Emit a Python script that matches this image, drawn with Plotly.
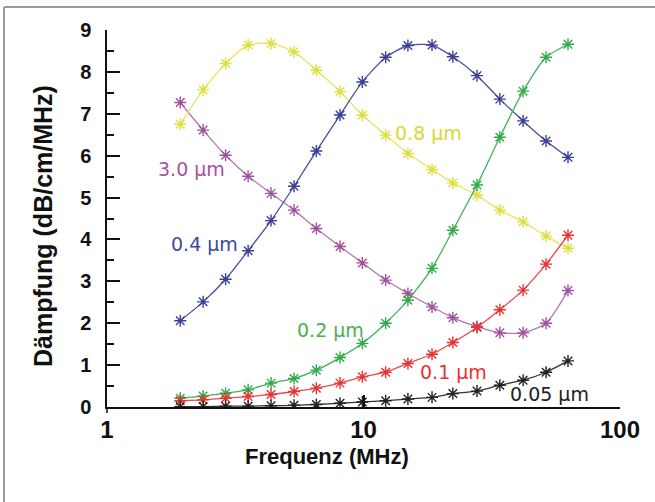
import math
import plotly.graph_objects as go

# Frequencies (MHz)
freq = [1.93, 2.37, 2.9, 3.55, 4.36, 5.36, 6.55, 8.1, 9.9, 12.2, 14.9, 18.5,
        22.3, 27.7, 34.0, 41.9, 51.5, 62.7]

# Attenuation (dB/cm/MHz) per particle size
d_3_0 = [7.27, 6.61, 6.01, 5.51, 5.10, 4.70, 4.26, 3.83, 3.44, 3.03, 2.71, 2.39,
         2.13, 1.92, 1.77, 1.77, 2.00, 2.78]
d_0_8 = [6.75, 7.57, 8.20, 8.64, 8.68, 8.48, 8.04, 7.53, 6.97, 6.49, 6.05, 5.67,
         5.35, 5.06, 4.70, 4.42, 4.08, 3.79]
d_0_4 = [2.06, 2.51, 3.05, 3.73, 4.45, 5.27, 6.11, 6.97, 7.76, 8.35, 8.63, 8.64,
         8.36, 7.91, 7.35, 6.83, 6.35, 5.96]
d_0_2 = [0.21, 0.26, 0.33, 0.41, 0.57, 0.68, 0.88, 1.18, 1.52, 2.00, 2.55, 3.31,
         4.22, 5.30, 6.44, 7.54, 8.35, 8.66]
d_0_1 = [0.15, 0.17, 0.21, 0.25, 0.30, 0.37, 0.45, 0.57, 0.72, 0.83, 1.04, 1.26,
         1.54, 1.90, 2.32, 2.79, 3.41, 4.10]
d_0_05 = [0.01, 0.01, 0.02, 0.02, 0.03, 0.04, 0.06, 0.09, 0.12, 0.15, 0.19, 0.23,
          0.32, 0.38, 0.52, 0.64, 0.83, 1.10]

series_names = ["3.0 µm", "0.8 µm", "0.4 µm", "0.2 µm", "0.1 µm", "0.05 µm"]
series_values = [d_3_0, d_0_8, d_0_4, d_0_2, d_0_1, d_0_05]
line_colors = ["#b07ab0", "#e6e65a", "#4a4e9e", "#3fb25a", "#ec4a4a", "#333333"]
marker_colors = ["#a0509c", "#dede40", "#3a3f98", "#32aa4a", "#e83232", "#222222"]
label_colors = ["#a8529e", "#d8d836", "#3c4a9c", "#4cb04c", "#ea3030", "#222222"]

# label anchor points (frequency MHz, value)
label_x = [1.55, 13.0, 1.75, 5.41, 16.3, 36.6]
label_y = [5.69, 6.54, 3.89, 1.83, 0.84, 0.30]

y_ticks = list(range(0, 10))
x_ticks = [1, 10, 100]

fig = go.Figure()
for name, vals, lc, mc in zip(series_names, series_values, line_colors, marker_colors):
    fig.add_trace(go.Scatter(
        x=freq, y=vals, mode="lines+markers", name=name,
        line=dict(color=lc, width=1.3, shape="spline", smoothing=0.6),
        marker=dict(symbol="asterisk-open", size=10, color=mc,
                    line=dict(color=mc, width=1.4)),
        showlegend=False,
    ))

for name, lx, ly, col in zip(series_names, label_x, label_y, label_colors):
    fig.add_annotation(x=math.log10(lx), y=ly, xref="x", yref="y", text=name,
                       showarrow=False, xanchor="left", yanchor="middle",
                       font=dict(family="DejaVu Sans", size=19, color=col))

L, R, T, B = 107, 35, 30, 95
W, H = 655, 502
pw, ph = W - L - R, H - T - B

def px(x):
    return (x - L) / pw

def py(y):
    return (H - B - y) / ph

# axis titles
fig.add_annotation(x=px(327), y=py(456), xref="paper", yref="paper",
                   xanchor="center", yanchor="middle",
                   text="<b>Frequenz (MHz)</b>", showarrow=False,
                   font=dict(family="Liberation Sans, Arial", size=22, color="#111"))
fig.add_annotation(x=px(43), y=py(226), xref="paper", yref="paper",
                   xanchor="center", yanchor="middle",
                   text="<b>Dämpfung (dB/cm/MHz)</b>", showarrow=False, textangle=-90,
                   font=dict(family="Liberation Sans, Arial", size=25, color="#111"))

# outer frame (top and left edges)
fig.add_shape(type="line", xref="paper", yref="paper", x0=px(4), x1=px(655),
              y0=py(7), y1=py(7), line=dict(color="#9a9a9a", width=2))
fig.add_shape(type="line", xref="paper", yref="paper", x0=px(4), x1=px(4),
              y0=py(7), y1=py(502), line=dict(color="#9a9a9a", width=2))
# small extension of the y axis below the x axis
fig.add_shape(type="line", xref="paper", yref="paper", x0=0, x1=0,
              y0=0, y1=py(413), line=dict(color="#111", width=1.5))

fig.update_layout(
    width=W, height=H,
    margin=dict(l=L, r=R, t=T, b=B, autoexpand=False),
    paper_bgcolor="white", plot_bgcolor="white",
    xaxis=dict(type="log", range=[0, 2], showgrid=False, zeroline=False,
               showline=True, linecolor="#111", linewidth=1.5,
               ticks="inside", ticklen=12, tickwidth=1.5, tickcolor="#111",
               tickmode="array", tickvals=x_ticks,
               ticktext=["<b>%d</b>" % v for v in x_ticks],
               tickfont=dict(family="Liberation Sans, Arial", size=24, color="#111"),
               ticklabelstandoff=0, automargin=False),
    yaxis=dict(range=[0, 9], showgrid=False, zeroline=False,
               showline=True, linecolor="#111", linewidth=1.5,
               ticks="inside", ticklen=13, tickwidth=1.5, tickcolor="#111",
               tickmode="array", tickvals=y_ticks,
               ticktext=["<b>%d</b>" % v for v in y_ticks],
               tickfont=dict(family="Liberation Sans, Arial", size=20, color="#111"),
               ticklabelstandoff=10, automargin=False,
               minor=dict(ticks="inside", ticklen=7, tickwidth=1.5, tickcolor="#111",
                          tickmode="array", tickvals=[v + 0.5 for v in y_ticks[:-1]],
                          showgrid=False)),
)

fig.write_html(
    "out.html",
    config={"displayModeBar": False},
    post_script="document.body.style.margin='0';"
                "document.documentElement.style.overflow='hidden';"
                "document.body.style.overflow='hidden';",
)
